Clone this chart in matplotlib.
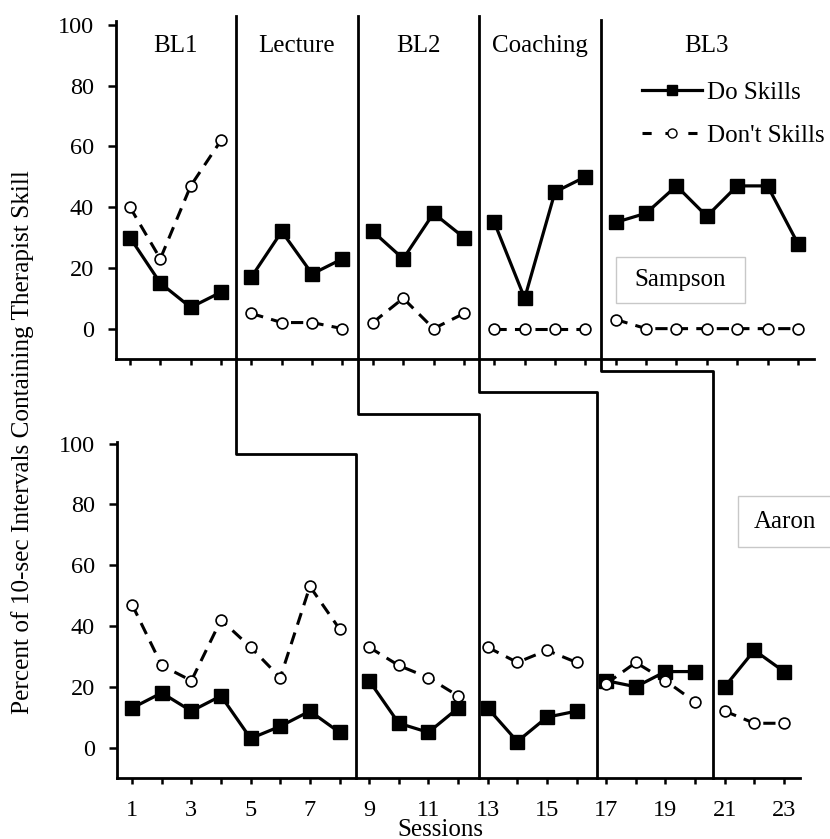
import matplotlib.pyplot as plt
from matplotlib.lines import Line2D
from matplotlib.patches import Rectangle

plt.rcParams['font.family'] = ['Liberation Serif', 'DejaVu Serif']

sessions = list(range(1, 24))

# Sampson (top panel)
sampson_do = [30, 15, 7, 12, 17, 32, 18, 23, 32, 23, 38, 30, 35, 10, 45, 50, 35, 38, 47, 37, 47, 47, 28]
sampson_dont = [40, 23, 47, 62, 5, 2, 2, 0, 2, 10, 0, 5, 0, 0, 0, 0, 3, 0, 0, 0, 0, 0, 0]
sampson_phases = [(1, 4), (5, 8), (9, 12), (13, 16), (17, 23)]
phase_names = ['BL1', 'Lecture', 'BL2', 'Coaching', 'BL3']

# Aaron (bottom panel)
aaron_do = [13, 18, 12, 17, 3, 7, 12, 5, 22, 8, 5, 13, 13, 2, 10, 12, 22, 20, 25, 25, 20, 32, 25]
aaron_dont = [47, 27, 22, 42, 33, 23, 53, 39, 33, 27, 23, 17, 33, 28, 32, 28, 21, 28, 22, 15, 12, 8, 8]
aaron_phases = [(1, 8), (9, 12), (13, 16), (17, 20), (21, 23)]

W, H = 830, 839
fig = plt.figure(figsize=(W / 100, H / 100), dpi=100)

DASH = (0, (4, 2.7))


def px_axes(l, t, r, b):
    return fig.add_axes([l / W, 1 - b / H, (r - l) / W, (b - t) / H])


ax_top = px_axes(116, 21, 814, 359)
ax_bot = px_axes(117, 442, 800, 778)


def draw_panel(ax, do, dont, phases):
    for a, b in phases:
        xs = sessions[a - 1:b]
        ax.plot(xs, do[a - 1:b], color='black', lw=2.3, marker='s', ms=9.5,
                zorder=3, clip_on=False)
        ax.plot(xs, dont[a - 1:b], color='black', lw=2.2, ls=DASH,
                marker='o', ms=7.8, mfc='white', mec='black', mew=1.2,
                zorder=4, clip_on=False)
    for s in ['top', 'right']:
        ax.spines[s].set_visible(False)
    for s in ['left', 'bottom']:
        ax.spines[s].set_linewidth(2.0)
    ax.set_yticks([0, 20, 40, 60, 80, 100])
    ax.set_xticks(sessions)
    ax.tick_params(axis='y', length=6, width=1.8, pad=10, labelsize=17.5)
    ax.tick_params(axis='x', length=4, width=1.8, pad=12, labelsize=17.5)


draw_panel(ax_top, sampson_do, sampson_dont, sampson_phases)
draw_panel(ax_bot, aaron_do, aaron_dont, aaron_phases)

ax_top.set_xlim(0.54, 23.53)
ax_top.set_ylim(-10, 101.3)
ax_top.set_xticklabels([])
ax_bot.set_xlim(0.49, 23.54)
ax_bot.set_ylim(-10, 100.5)
ax_bot.set_xticklabels([str(s) if s % 2 else '' for s in sessions])

for (a, b), name in zip(sampson_phases, phase_names):
    ax_top.text((a + b) / 2, 93, name, ha='center', va='center', fontsize=18)

# legend
handles = [
    Line2D([], [], color='black', lw=2.3, marker='s', ms=7),
    Line2D([], [], color='black', lw=2.2, ls=(0, (3, 4.5)), marker='o', ms=6.5,
           mfc='white', mec='black', mew=1.0),
]
ax_top.legend(handles, ['Do Skills', "Don't Skills"], loc='upper left',
              bbox_to_anchor=(0.7536, 0.822), frameon=False, fontsize=18,
              borderpad=0, borderaxespad=0, handlelength=2.4,
              handletextpad=0.2, labelspacing=0.82)

# phase-change lines (staggered between panels)
top_x = [4.5, 8.5, 12.5, 16.5]
top_y = [103, 103, 103, 101.5]
bot_x = [8.55, 12.7, 16.7, 20.6]
step_y = [96.7, 109.6, 116.8, 123.8]
inv = fig.transFigure.inverted()
for xt, yt, xb, ys in zip(top_x, top_y, bot_x, step_y):
    p0 = ax_top.transData.transform((xt, yt))
    p2 = ax_bot.transData.transform((xb, ys))
    p3 = ax_bot.transData.transform((xb, -10))
    pts = inv.transform([p0, (p0[0], p2[1]), p2, p3])
    fig.add_artist(Line2D(pts[:, 0], pts[:, 1], color='black', lw=2.0))

# name boxes
for (l, t, r, b), name, cx in [((616, 257, 745, 303), 'Sampson', 680),
                               ((738, 496, 845, 547), 'Aaron', 785)]:
    fig.add_artist(Rectangle((l / W, 1 - b / H), (r - l) / W, (b - t) / H,
                             transform=fig.transFigure, fill=True,
                             facecolor='white', edgecolor='#c8c8c8', lw=1.0,
                             zorder=5))
    fig.text(cx / W, 1 - (t + b) / 2 / H, name, ha='center', va='center',
             fontsize=18, zorder=6)

fig.text(23 / W, 1 - 442 / H, 'Percent of 10-sec Intervals Containing Therapist Skill',
         rotation=90, ha='center', va='center', fontsize=18.2)
fig.text(440 / W, 1 - 830 / H, 'Sessions', ha='center', va='center', fontsize=18)

fig.savefig('out.png', dpi=100)
